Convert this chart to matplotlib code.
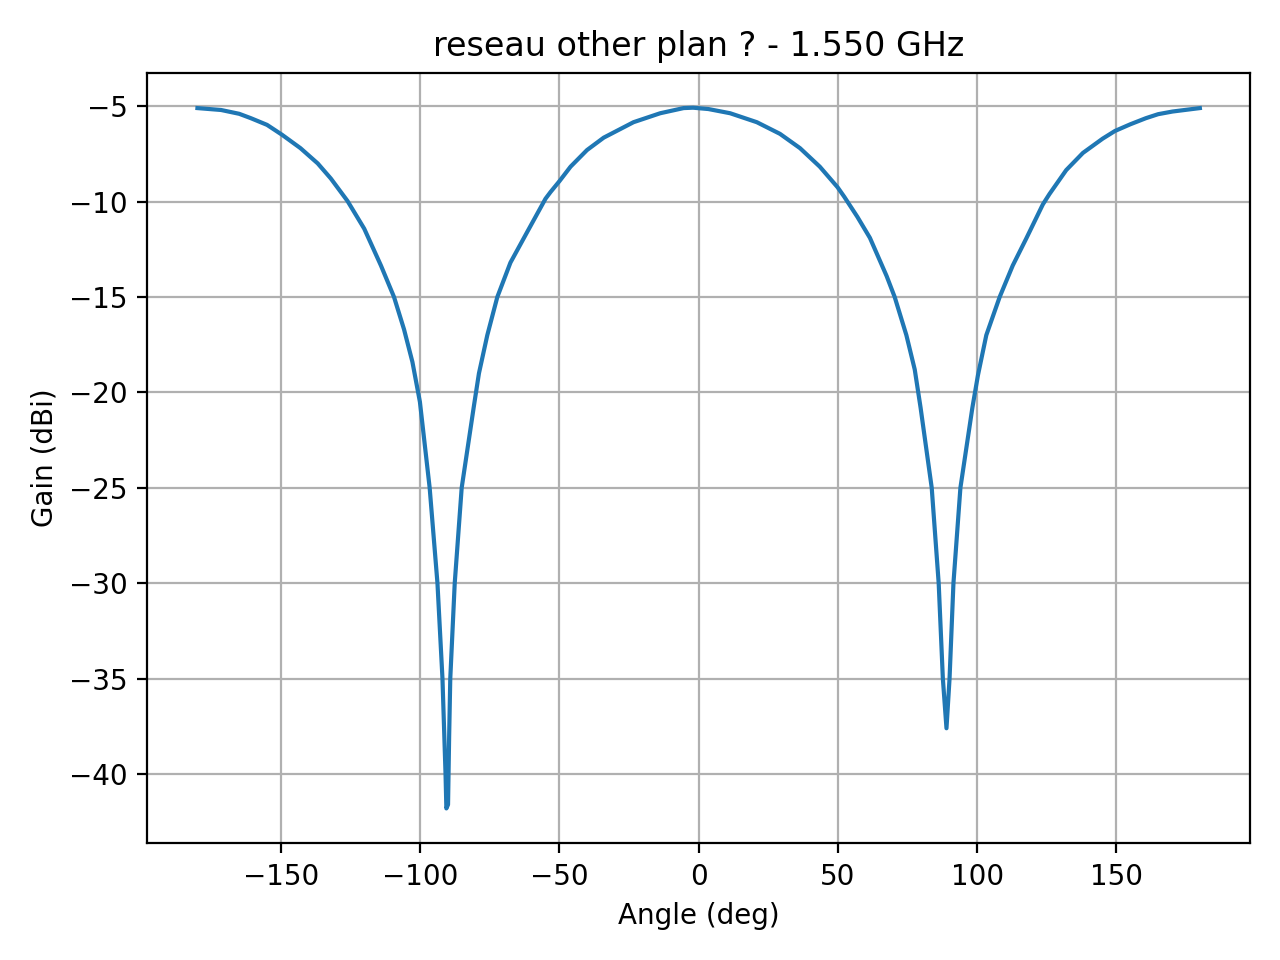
import matplotlib
matplotlib.use('Agg')
import matplotlib.pyplot as plt

# angle (deg) and gain (dBi)
angle = [-180.0, -171.5, -165.0, -160.8, -155.0, -149.6, -143.0, -136.8, -132.1,
         -126.1, -120.1, -114.1, -109.4, -105.8, -102.8, -100.1, -96.6,
         -93.8, -92.0, -90.9, -90.6, -90.0, -89.6, -89.2, -87.6, -85.1, -80.7,
         -78.9, -75.9, -72.3, -67.6, -61.6, -55.0, -53.2, -50.0, -46.0, -40.1,
         -34.1, -23.4, -13.8, -5.4, -2.0, 3.5, 11.3, 20.9, 29.2, 36.4, 43.5,
         49.9, 52.3, 57.0, 61.5, 67.5, 70.4, 74.6, 77.6, 79.7, 83.7, 86.2, 87.7,
         89.0, 90.1, 91.5, 94.0, 98.3, 100.3, 103.3, 108.1, 112.8, 117.6, 123.6,
         126.0, 132.0, 138.0, 145.1, 149.5, 155.0, 160.6, 165.0, 170.2, 180.0]
gain = [-5.10, -5.20, -5.40, -5.63, -5.98, -6.50, -7.20, -8.00, -8.79,
        -9.97, -11.42, -13.35, -15.00, -16.70, -18.40, -20.50, -25.00,
        -30.00, -35.00, -40.00, -41.80, -41.60, -38.00, -35.00, -30.00, -25.00, -20.70,
        -19.00, -17.00, -15.00, -13.20, -11.60, -9.85, -9.50, -8.93, -8.17, -7.30,
        -6.65, -5.84, -5.37, -5.10, -5.08, -5.15, -5.37, -5.84, -6.45, -7.20, -8.17,
        -9.25, -9.75, -10.80, -11.90, -13.90, -15.00, -17.00, -18.80, -20.80, -25.00, -30.00, -35.00,
        -37.60, -35.00, -30.00, -25.00, -20.80, -19.10, -17.00, -15.00, -13.35, -11.95, -10.15,
        -9.60, -8.35, -7.45, -6.70, -6.30, -5.95, -5.63, -5.42, -5.28, -5.10]

freq = 1.550

fig = plt.figure(figsize=(6.4, 4.8), dpi=200)
plt.plot(angle, gain)
plt.xlabel('Angle (deg)')
plt.ylabel('Gain (dBi)')
plt.title(f'reseau other plan ? - {freq:.3f} GHz')
plt.grid()
plt.tight_layout()
plt.savefig('out.png')
